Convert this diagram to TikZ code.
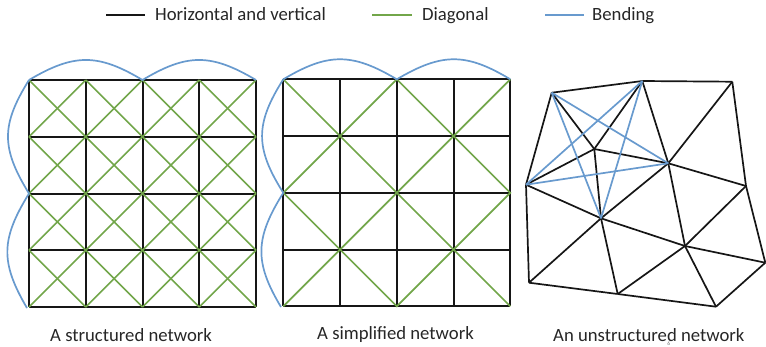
\documentclass[tikz,border=0pt]{standalone}
\usepackage{fontspec}
\setmainfont{Carlito}
\definecolor{hvline}{RGB}{22,22,22}
\definecolor{diag}{RGB}{114,166,74}
\definecolor{bend}{RGB}{104,154,206}
\begin{document}
\begin{tikzpicture}[x=1pt,y=-1pt,
  hv/.style={draw=hvline,line width=2pt},
  dg/.style={draw=diag,line width=1.7pt},
  bd/.style={draw=bend,line width=1.7pt},
  lbl/.style={font=\fontsize{18.7}{22}\selectfont,text=black!85,inner sep=0pt,anchor=base west}]
\useasboundingbox (0,0) rectangle (766,346);

% ---------- legend ----------
\coordinate (k1a) at (106,15); \coordinate (k1b) at (145,15);
\coordinate (k2a) at (372,15); \coordinate (k2b) at (412,15);
\coordinate (k3a) at (545,15); \coordinate (k3b) at (584,15);
\draw[hv,line width=1.5pt] (k1a) -- (k1b);
\draw[dg,line width=1.5pt] (k2a) -- (k2b);
\draw[bd,line width=1.5pt] (k3a) -- (k3b);
\node[lbl] (k1t) at (155,20.7) {Horizontal and vertical};
\node[lbl] (k2t) at (422,20.7) {Diagonal};
\node[lbl] (k3t) at (592,20.7) {Bending};

% ---------- structured network: grid with crosses in every cell ----------
\def\sx{29}\def\sy{80}\def\cs{56.75}
\foreach \i in {0,...,4}{
  \draw[hv] (\sx+\i*\cs,\sy) -- (\sx+\i*\cs,\sy+4*\cs);
  \draw[hv] (\sx,\sy+\i*\cs) -- (\sx+4*\cs,\sy+\i*\cs);
}
\foreach \i in {0,...,3}{
  \foreach \j in {0,...,3}{
    \draw[dg] (\sx+\i*\cs,\sy+\j*\cs) -- (\sx+\i*\cs+\cs,\sy+\j*\cs+\cs);
    \draw[dg] (\sx+\i*\cs+\cs,\sy+\j*\cs) -- (\sx+\i*\cs,\sy+\j*\cs+\cs);
  }
}
\draw[bd] (29,80) .. controls (74,53.3) and (98,53.3) .. (142.5,80)
          .. controls (187,53.3) and (211,53.3) .. (256,80);
\draw[bd] (29,80) .. controls (1,125) and (1,148) .. (29,193.5)
          .. controls (1,239) and (0,262) .. (27,308);
\node[lbl] (l1) at (50,341.7) {A structured network};

% ---------- simplified network: grid with crosses over 2x2 blocks ----------
\def\mx{283.3}\def\my{79.3}
\foreach \i in {0,...,4}{
  \draw[hv] (\mx+\i*\cs,\my) -- (\mx+\i*\cs,\my+4*\cs);
  \draw[hv] (\mx,\my+\i*\cs) -- (\mx+4*\cs,\my+\i*\cs);
}
\draw[dg] (\mx,\my) -- (\mx+4*\cs,\my+4*\cs);
\draw[dg] (\mx+4*\cs,\my) -- (\mx,\my+4*\cs);
\draw[dg] (\mx+2*\cs,\my) -- (\mx+4*\cs,\my+2*\cs) -- (\mx+2*\cs,\my+4*\cs)
          -- (\mx,\my+2*\cs) -- cycle;
\draw[bd] (283.3,79.3) .. controls (328,52.6) and (352,52.6) .. (396.8,79.3)
          .. controls (442,52.6) and (466,52.6) .. (510.3,79.3);
\draw[bd] (283.3,79.3) .. controls (255,124) and (255,148) .. (283.3,192.8)
          .. controls (255,238) and (254,262) .. (281,307);
\node[lbl] (l2) at (317,339) {A simplified network};

% ---------- unstructured network ----------
\coordinate (A) at (551.7,92.7);
\coordinate (B) at (642.3,81);
\coordinate (C) at (732.3,81.7);
\coordinate (D) at (594.3,149);
\coordinate (E) at (668.3,163.3);
\coordinate (F) at (526,184.7);
\coordinate (G) at (746,186);
\coordinate (H) at (601,218.3);
\coordinate (I) at (685,246);
\coordinate (J) at (765.3,262.7);
\coordinate (K) at (529,282.7);
\coordinate (L) at (617.7,294);
\coordinate (M) at (716,306.7);
\foreach \p/\q in {A/B,B/C,A/F,A/D,D/B,D/F,D/E,D/H,B/E,C/E,C/G,E/G,F/H,F/K,
                   E/H,H/I,E/I,G/I,G/J,I/J,H/K,H/L,K/L,L/I,L/M,I/M,M/J}
  \draw[hv,line width=1.7pt,line join=round] (\p) -- (\q);
\foreach \p/\q in {A/E,A/H,B/F,B/H,F/E}
  \draw[bd] (\p) -- (\q);
\node[lbl] (l3) at (553,341) {An unstructured network};
\node[font=\fontsize{5.5}{6}\selectfont,text=black!55,inner sep=0pt] (pg) at (668.7,343.4) {6};
\end{tikzpicture}
\end{document}
